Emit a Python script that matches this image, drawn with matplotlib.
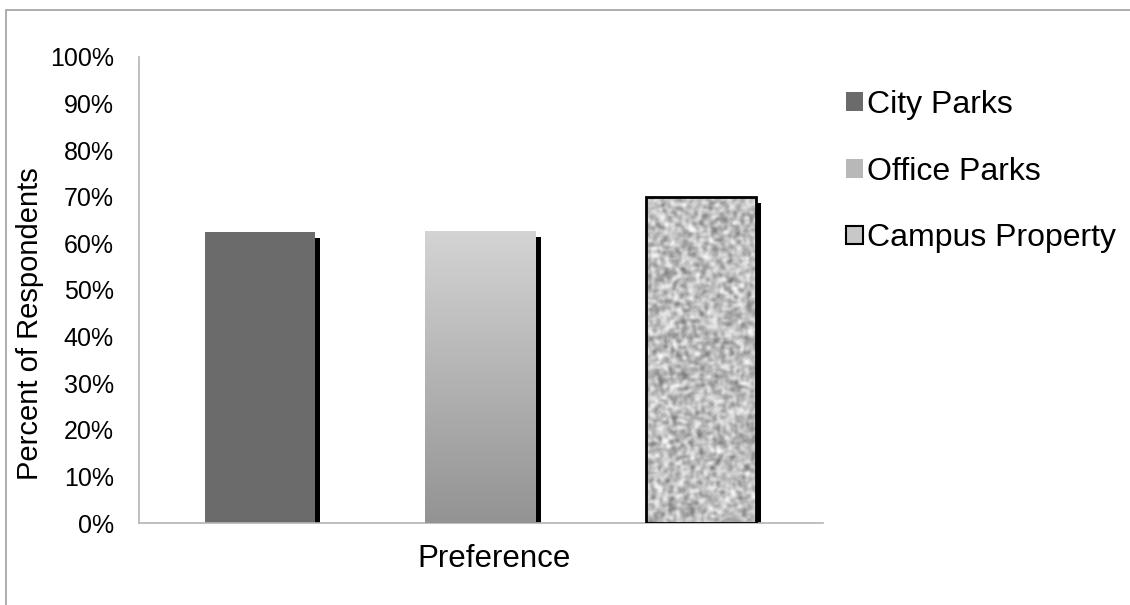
import numpy as np
import matplotlib.pyplot as plt
import matplotlib.patheffects as pe
from matplotlib.patches import Patch, Rectangle
from matplotlib.colors import LinearSegmentedColormap

plt.rcParams['font.family'] = ['Liberation Sans', 'DejaVu Sans']

categories = ["City Parks", "Office Parks", "Campus Property"]
values = [62.5, 62.7, 70.0]
yticks = [0, 10, 20, 30, 40, 50, 60, 70, 80, 90, 100]

fig = plt.figure(figsize=(11.3, 6.05), dpi=100)
ax = fig.add_axes([0.123, 0.1355, 0.605, 0.7705])

x = np.arange(len(categories))
shadow = [pe.SimplePatchShadow(offset=(3.6, -4.3), shadow_rgbFace="black", alpha=1.0), pe.Normal()]
bars = ax.bar(x, values, width=0.5, color=["#6b6b6b", "#c0c0c0", "#c8c8c8"], zorder=2)
for b in bars:
    b.set_path_effects(shadow)

# gradient fill for office parks
b = bars[1]
grad = np.linspace(0, 1, 256).reshape(-1, 1)
gcmap = LinearSegmentedColormap.from_list("g", ["#939393", "#d4d4d4"])
im = ax.imshow(grad, cmap=gcmap, aspect="auto", origin="lower", zorder=3,
               extent=[b.get_x(), b.get_x() + b.get_width(), 0, b.get_height()])
im.set_clip_path(b)

# speckled texture for campus property
b = bars[2]
ii, jj = np.mgrid[0:180, 0:60]
tex = (np.sin(ii * 12.9898 + jj * 78.233) * 43758.5453) % 1.0
tex = (tex + np.roll(tex, 1, 0) + np.roll(tex, 1, 1) + np.roll(tex, -1, 0) + np.roll(tex, -1, 1)) / 5
tex = (tex - tex.mean()) / tex.std()
im2 = ax.imshow(tex, cmap="gray", vmin=-7.0, vmax=2.4, aspect="auto", origin="lower",
                interpolation="bicubic", zorder=3,
                extent=[b.get_x(), b.get_x() + b.get_width(), 0, b.get_height()])
im2.set_clip_path(b)
ax.add_patch(Rectangle((b.get_x(), 0), b.get_width(), b.get_height(), fill=False,
                       edgecolor="black", linewidth=2, zorder=4))

ax.set_xlim(-0.548, 2.552)
ax.set_ylim(0, 100)
ax.set_yticks(yticks)
ax.set_yticklabels([f"{t}%" for t in yticks], fontsize=18)
ax.set_xticks([])
ax.tick_params(axis="y", length=0, pad=18)
for s in ["top", "right"]:
    ax.spines[s].set_visible(False)
for s in ["left", "bottom"]:
    ax.spines[s].set_color("#b4b4b4")
    ax.spines[s].set_linewidth(1.2)
ax.set_ylabel("Percent of Respondents", fontsize=21, va="center")
ax.yaxis.set_label_coords(-0.159, 0.427)
ax.set_xlabel("Preference", fontsize=22.5)
ax.xaxis.set_label_coords(0.52, -0.045)

handles = [Patch(facecolor="#6b6b6b"), Patch(facecolor="#b8b8b8"),
           Patch(facecolor="#c8c8c8", edgecolor="black", linewidth=1.5)]
fig.legend(handles, categories, loc="upper left", bbox_to_anchor=(0.723, 0.899),
           frameon=False, fontsize=23, handlelength=0.53, handleheight=0.53,
           handletextpad=0.15, labelspacing=1.15)

fig.patches.append(Rectangle((0.0053, -0.05), 1.1, 1.05 - 0.0165, transform=fig.transFigure,
                             fill=False, edgecolor="#a0a0a0", linewidth=1.2))

fig.savefig("out.png", dpi=100)
